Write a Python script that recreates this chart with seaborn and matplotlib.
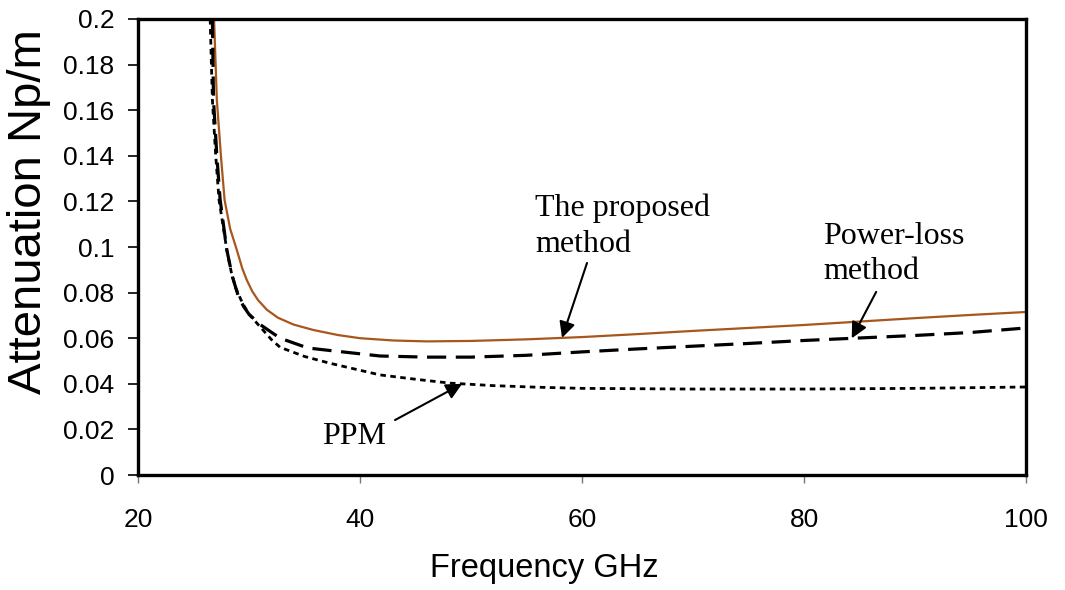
import numpy as np
import pandas as pd
import matplotlib
matplotlib.use("Agg")
import matplotlib.pyplot as plt
from matplotlib.ticker import FuncFormatter, MultipleLocator
import seaborn as sns

# values
freq_proposed = [26.85, 27.1, 27.5, 27.8, 28.3, 28.9, 29.4, 29.8, 30.3, 30.8, 31.6, 32.6, 34.0,
                 35.8, 38.0, 40.0, 43.0, 46.0, 50.0, 55.0, 60.0, 65.0, 70.0, 75.0, 80.0, 85.0,
                 90.0, 95.0, 100.0]
att_proposed = [0.2, 0.1645, 0.138, 0.1206, 0.108, 0.0987, 0.0905, 0.0855, 0.0805, 0.0768, 0.0725,
                0.0690, 0.066, 0.0636, 0.0614, 0.0600, 0.059, 0.0586, 0.0588, 0.0595, 0.0605,
                0.0618, 0.0632, 0.0645, 0.0658, 0.0673, 0.0688, 0.0702, 0.0715]

freq_powerloss = [26.7, 26.8, 27.1, 27.4, 28.0, 28.5, 29.0, 29.5, 30.0, 31.0, 32.8, 35.3, 37.3,
                  41.8, 46.0, 50.0, 55.0, 60.0, 65.0, 70.0, 75.0, 80.0, 85.0, 90.0, 95.0, 100.0]
att_powerloss = [0.2, 0.1645, 0.14, 0.1206, 0.0987, 0.087, 0.0790, 0.0740, 0.0705, 0.066, 0.060,
                 0.0557, 0.0546, 0.0522, 0.0517, 0.0517, 0.0525, 0.054, 0.0553, 0.0565, 0.0577,
                 0.059, 0.0601, 0.0612, 0.0625, 0.0645]

freq_ppm = [26.5, 26.7, 27.0, 27.3, 28.0, 28.4, 28.8, 29.4, 30.0, 31.0, 32.0, 32.8, 35.0, 37.3,
            41.8, 45.0, 48.1, 52.0, 56.0, 60.0, 70.0, 80.0, 90.0, 100.0]
att_ppm = [0.2, 0.1645, 0.14, 0.1206, 0.0987, 0.089, 0.082, 0.0755, 0.0705, 0.065, 0.0595, 0.056,
           0.052, 0.049, 0.0439, 0.042, 0.0403, 0.0392, 0.0385, 0.038, 0.0377, 0.0377, 0.038,
           0.0386]

x_ticks = [20, 40, 60, 80, 100]

df_prop = pd.DataFrame({"freq": freq_proposed, "att": att_proposed})
df_pl = pd.DataFrame({"freq": freq_powerloss, "att": att_powerloss})
df_ppm = pd.DataFrame({"freq": freq_ppm, "att": att_ppm})

sns.set_style("white")
plt.rcParams["font.family"] = ["Liberation Sans", "DejaVu Sans"]
plt.rcParams["text.color"] = "black"
plt.rcParams["axes.labelcolor"] = "black"
plt.rcParams["xtick.labelcolor"] = "black"
plt.rcParams["ytick.labelcolor"] = "black"

fig = plt.figure(figsize=(10.65, 5.9), dpi=100)
ax = fig.add_axes([0.1296, 0.1949, 0.8338, 0.7729])

sns.lineplot(data=df_prop, x="freq", y="att", ax=ax, color="#A8561C", lw=1.6, estimator=None)
sns.lineplot(data=df_pl, x="freq", y="att", ax=ax, color="black", lw=2.3, estimator=None)
sns.lineplot(data=df_ppm, x="freq", y="att", ax=ax, color="black", lw=2.0, estimator=None)
ax.lines[1].set_dashes([6, 3])
ax.lines[2].set_dashes([2, 1.6])

ax.set_xlim(20, 100)
ax.set_ylim(0, 0.2)
ax.set_xticks(x_ticks)
ax.yaxis.set_major_locator(MultipleLocator(0.02))
ax.yaxis.set_major_formatter(FuncFormatter(lambda v, p: "0" if abs(v) < 1e-9 else f"{v:.2f}".rstrip("0")))

for s in ax.spines.values():
    s.set_visible(True)
    s.set_color("black")
    s.set_linewidth(2.4)

ax.tick_params(axis="x", direction="out", length=6, width=1, color="#777777",
               labelsize=19, pad=18, bottom=True)
ax.tick_params(axis="y", direction="out", length=7, width=1.2, color="black",
               labelsize=19, pad=10, left=True)

ax.set_xlabel("Frequency GHz", fontsize=23.5)
ax.set_ylabel("Attenuation Np/m", fontsize=34)
ax.xaxis.set_label_coords(0.458, -0.172)
ax.yaxis.set_label_coords(-0.098, 0.577)

# annotations
serif = ["Liberation Serif", "DejaVu Serif"]
arrow = dict(arrowstyle="-|>", mutation_scale=24, lw=1.5, color="black", shrinkA=0, shrinkB=0)

tip_prop = 58.2
ax.annotate("", xy=(tip_prop, np.interp(tip_prop, freq_proposed, att_proposed)),
            xytext=(60.45, 0.093), arrowprops=arrow)
ax.text(55.8, 0.1092, "The proposed\nmethod", family=serif, fontsize=23,
        ha="left", va="center", linespacing=1.3)

tip_pl = 84.3
ax.annotate("", xy=(tip_pl, np.interp(tip_pl, freq_powerloss, att_powerloss)),
            xytext=(86.5, 0.0803), arrowprops=arrow)
ax.text(81.7, 0.0969, "Power-loss\nmethod", family=serif, fontsize=23,
        ha="left", va="center", linespacing=1.3)

tip_ppm = 49.2
ax.annotate("", xy=(tip_ppm, np.interp(tip_ppm, freq_ppm, att_ppm)),
            xytext=(43.15, 0.0241), arrowprops=arrow)
ax.text(39.5, 0.0167, "PPM", family=serif, fontsize=23, ha="center", va="center")

fig.savefig("out.png", dpi=100)
